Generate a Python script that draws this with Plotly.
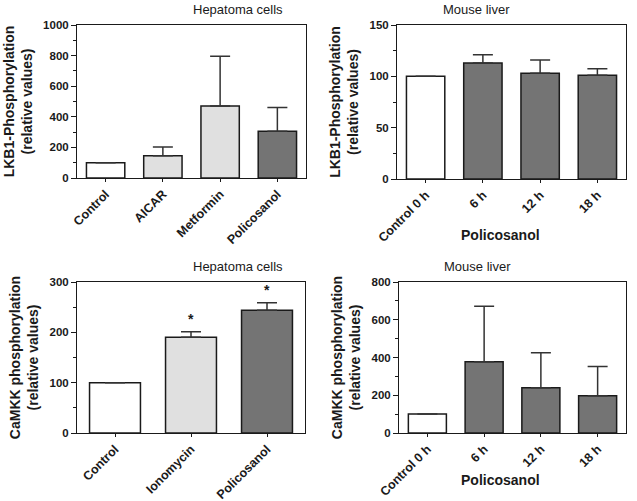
import plotly.graph_objects as go

# ---------------- data ----------------
tl_cats = ["Control", "AICAR", "Metformin", "Policosanol"]
tl_vals = [100, 145, 470, 305]
tl_errs = [None, 58, 325, 155]
tl_cols = ["#ffffff", "#e0e0e0", "#e0e0e0", "#747474"]

tr_cats = ["Control 0 h", "6 h", "12 h", "18 h"]
tr_vals = [100, 113, 103, 101]
tr_errs = [None, 8, 13, 6.5]
tr_cols = ["#ffffff", "#747474", "#747474", "#747474"]

bl_cats = ["Control", "Ionomycin", "Policosanol"]
bl_vals = [100, 190, 244]
bl_errs = [None, 11, 15]
bl_cols = ["#ffffff", "#e0e0e0", "#747474"]
bl_sig = ["", "*", "*"]

br_cats = ["Control 0 h", "6 h", "12 h", "18 h"]
br_vals = [100, 378, 240, 197]
br_errs = [None, 294, 185, 155]
br_cols = ["#ffffff", "#747474", "#747474", "#747474"]

panel_titles = ["Hepatoma cells", "Mouse liver", "Hepatoma cells", "Mouse liver"]
ytitle_lkb1 = "LKB1-Phosphorylation<br>(relative values)"
ytitle_camkk = "CaMKK phosphorylation<br>(relative values)"
xtitle_right = "Policosanol"

# ---------------- layout helpers ----------------
W, H = 637, 501
FONT = "Liberation Sans, Arial, sans-serif"
AX = "#1a1a1a"

def xdom(a, b):
    return [a / W, b / W]

def ydom(top, bottom):
    return [1 - bottom / H, 1 - top / H]

panels = [
    dict(cats=tl_cats, vals=tl_vals, errs=tl_errs, cols=tl_cols, xd=xdom(77, 306), yd=ydom(25, 178),
         yr=[0, 1000], dt=200, mdt=100, yt=ytitle_lkb1),
    dict(cats=tr_cats, vals=tr_vals, errs=tr_errs, cols=tr_cols, xd=xdom(397, 626), yd=ydom(25, 179),
         yr=[0, 150], dt=50, mdt=25, yt=ytitle_lkb1),
    dict(cats=bl_cats, vals=bl_vals, errs=bl_errs, cols=bl_cols, xd=xdom(77, 305), yd=ydom(282, 433),
         yr=[0, 300], dt=100, mdt=50, yt=ytitle_camkk),
    dict(cats=br_cats, vals=br_vals, errs=br_errs, cols=br_cols, xd=xdom(399, 626), yd=ydom(282, 433),
         yr=[0, 800], dt=200, mdt=100, yt=ytitle_camkk),
]

fig = go.Figure()
annotations = []
for i, p in enumerate(panels):
    n = i + 1
    xa = "x" if n == 1 else f"x{n}"
    ya = "y" if n == 1 else f"y{n}"
    fig.add_trace(go.Bar(
        x=p["cats"], y=p["vals"], xaxis=xa, yaxis=ya,
        marker=dict(color=p["cols"], line=dict(color=AX, width=1.5)),
        error_y=dict(type="data", symmetric=False, array=p["errs"],
                     arrayminus=[0] * len(p["vals"]), color="#333333",
                     thickness=1.5, width=10),
        showlegend=False,
    ))
    xkey = "xaxis" if n == 1 else f"xaxis{n}"
    ykey = "yaxis" if n == 1 else f"yaxis{n}"
    fig.update_layout({
        xkey: dict(domain=p["xd"], anchor=ya, type="category", automargin=False,
                   range=[-0.5, len(p["cats"]) - 0.5],
                   showline=True, linecolor=AX, linewidth=1, mirror=True,
                   ticks="outside", ticklen=3, tickcolor=AX, tickwidth=1,
                   tickangle=-45, showgrid=False, zeroline=False,
                   tickfont=dict(family=FONT, size=12.5, color="#1a1a1a", weight="bold")),
        ykey: dict(domain=p["yd"], anchor=xa, range=p["yr"], dtick=p["dt"], tick0=0,
                   automargin=False,
                   showline=True, linecolor=AX, linewidth=1, mirror=True,
                   ticks="outside", ticklen=5, tickcolor=AX, tickwidth=1,
                   minor=dict(dtick=p["mdt"], ticks="outside", ticklen=3, tickcolor=AX),
                   showgrid=False, zeroline=False,
                   tickfont=dict(family=FONT, size=11.5, color="#1a1a1a", weight="bold"),
                   title=dict(text=p["yt"], standoff=7,
                              font=dict(family=FONT, size=14, color="#1a1a1a", weight="bold"))),
    })
    annotations.append(dict(text=panel_titles[i], xref="paper", yref="paper",
                            x=(p["xd"][0] + p["xd"][1]) / 2, y=p["yd"][1], yanchor="bottom",
                            yshift=6, showarrow=False,
                            font=dict(family=FONT, size=13, color="#1a1a1a")))

for c, v, e, s in zip(bl_cats, bl_vals, bl_errs, bl_sig):
    if s:
        annotations.append(dict(text=s, x=c, y=v + e, xref="x3", yref="y3",
                                yanchor="bottom", yshift=3, showarrow=False,
                                font=dict(family=FONT, size=14, color="#1a1a1a", weight="bold")))

for ypix in (235, 490):
    annotations.append(dict(text=xtitle_right, xref="paper", yref="paper",
                            x=542 / W, y=1 - ypix / H, showarrow=False,
                            font=dict(family=FONT, size=14, color="#1a1a1a", weight="bold")))

fig.update_layout(
    width=W, height=H, margin=dict(l=0, r=0, t=0, b=0, autoexpand=False),
    paper_bgcolor="white", plot_bgcolor="white",
    bargap=0.33, annotations=annotations,
    font=dict(family=FONT),
)

fig.write_html("out.html", config={"displayModeBar": False},
               post_script="document.body.style.margin='0';document.body.style.overflow='hidden';")
